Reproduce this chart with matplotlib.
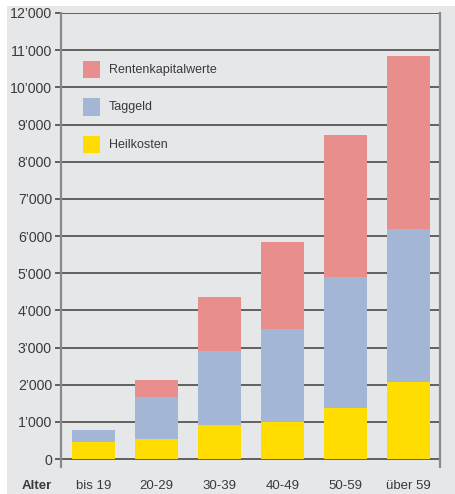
import numpy as np
import matplotlib
matplotlib.use("Agg")
import matplotlib.pyplot as plt
from matplotlib.patches import Rectangle

plt.rcParams['font.family'] = ['Liberation Sans', 'DejaVu Sans']

# Data
alter = ["bis 19", "20-29", "30-39", "40-49", "50-59", "über 59"]
heilkosten = [465, 546, 915, 1004, 1380, 2080]
taggeld = [315, 1122, 1991, 2493, 3516, 4108]
renten = [0, 457, 1452, 2341, 3821, 4654]
yticks = [0, 1000, 2000, 3000, 4000, 5000, 6000, 7000, 8000, 9000, 10000, 11000, 12000]

c_heil = "#ffdd00"
c_tag = "#a3b6d6"
c_rent = "#e88e8d"
bg = "#e6e7e9"
txt = "#3a3a3a"

W, H = 455, 494
fig = plt.figure(figsize=(W / 100, H / 100), dpi=100)
fig.patch.set_facecolor("white")
fig.patches.append(Rectangle((7 / W, 0), 1 - 7 / W, 1 - 6 / H, transform=fig.transFigure,
                             facecolor=bg, edgecolor="none", zorder=-10))

# axes: left x=61, right x=440, top y=13, bottom y=467
ax = fig.add_axes([61 / W, 1 - 467 / H, (440 - 61) / W, (467 - 13) / H])
ax.set_facecolor("none")

x = np.arange(len(alter))
w = 0.68
ax.bar(x, heilkosten, w, color=c_heil, zorder=3)
ax.bar(x, taggeld, w, bottom=heilkosten, color=c_tag, zorder=3)
bot2 = np.array(heilkosten) + np.array(taggeld)
ax.bar(x, renten, w, bottom=bot2, color=c_rent, zorder=3)

ax.set_xlim(-0.516, 5.5)
ax.set_ylim(-215, 12000)

for v in yticks:
    ax.axhline(v, color="#3c3c3c", lw=1.1, zorder=2)

ax.set_yticks(yticks)
ax.set_yticklabels([f"{v // 1000}\u2019000" if v else "0" for v in yticks])
ax.tick_params(axis="y", length=4, width=1.1, color="#3c3c3c", pad=2.5,
               labelsize=10.2, labelcolor=txt)
ax.set_xticks(x)
ax.set_xticklabels(alter)
ax.tick_params(axis="x", length=0, pad=9, labelsize=9.5, labelcolor=txt)

for s in ["top", "bottom"]:
    ax.spines[s].set_visible(False)
for s in ["left", "right"]:
    ax.spines[s].set_color("#8a8a8a")
    ax.spines[s].set_linewidth(1.6)

fig.text(22 / W, 1 - 486 / H, "Alter", fontsize=9.5, fontweight="bold",
         color=txt, va="center", ha="left")

# legend
labels = ["Rentenkapitalwerte", "Taggeld", "Heilkosten"]
cols = [c_rent, c_tag, c_heil]
for i, (lab, c) in enumerate(zip(labels, cols)):
    yc = 69.5 + i * 37.5
    fig.patches.append(Rectangle((83 / W, 1 - (yc + 8.5) / H), 17 / W, 17 / H,
                                 transform=fig.transFigure, facecolor=c,
                                 edgecolor="none", zorder=5))
    fig.text(109 / W, 1 - yc / H, lab, fontsize=9, color=txt, va="center", ha="left")

plt.savefig("out.png", dpi=100)
